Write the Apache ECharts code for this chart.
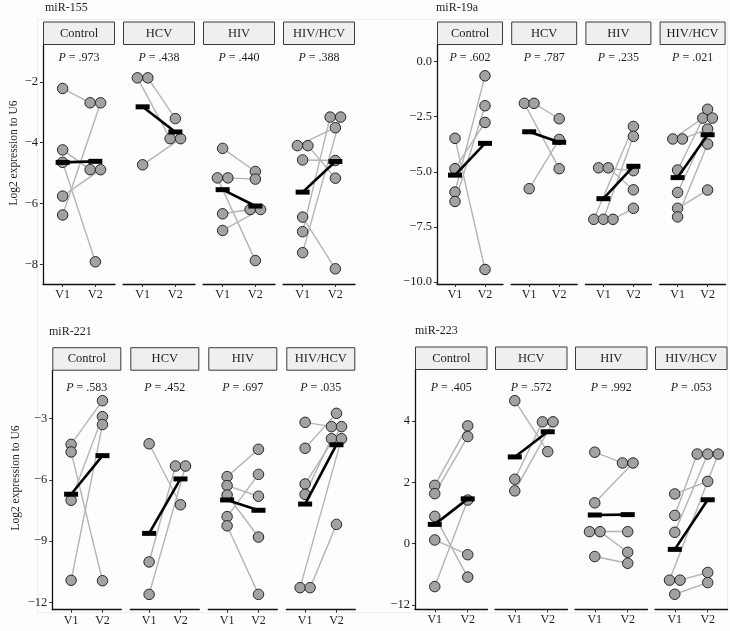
<!DOCTYPE html>
<html><head><meta charset="utf-8">
<script src="https://cdn.jsdelivr.net/npm/echarts@6/dist/echarts.min.js"></script>
<style>html,body{margin:0;padding:0;background:#fdfdfb}#c{width:730px;height:631px}</style>
</head><body><div id="c"></div><script>
// ---------- categories ----------
const groups = ['Control', 'HCV', 'HIV', 'HIV/HCV'];
const visits = ['V1', 'V2'];
const panelTitles = ['miR-155', 'miR-19a', 'miR-221', 'miR-223'];
const yAxisTitle = 'Log2 expression to U6';

// ---------- data: each subject = [V1, V2] (log2 expression) ----------
// miR-155
const mir155Control = [[-2.22, -2.69], [-4.24, -4.89], [-4.65, -7.92], [-5.76, -4.89], [-6.38, -2.69]];
const mir155HCV     = [[-1.87, -3.87], [-1.87, -3.21], [-4.73, -3.87]];
const mir155HIV     = [[-4.19, -4.95], [-5.16, -7.88], [-5.16, -5.20], [-6.34, -6.20], [-6.89, -6.20]];
const mir155HIVHCV  = [[-4.10, -3.51], [-4.10, -5.17], [-4.57, -4.59], [-6.45, -8.15], [-6.93, -3.16], [-7.62, -3.16]];
const mir155P = ['.973', '.438', '.440', '.388'];
const mir155Ticks = [-2, -4, -6, -8];
const mir155TickLabels = ['\u22122', '\u22124', '\u22126', '\u22128'];

// miR-19a
const mir19aControl = [[-3.48, -9.44], [-4.86, -2.76], [-5.92, -0.64], [-6.35, -2.00]];
const mir19aHCV     = [[-1.89, -4.86], [-1.89, -2.59], [-5.77, -3.53]];
const mir19aHIV     = [[-4.82, -4.95], [-4.82, -5.82], [-7.16, -2.94], [-7.16, -3.39], [-7.16, -6.66]];
const mir19aHIVHCV  = [[-3.51, -2.56], [-3.51, -3.06], [-4.92, -2.16], [-5.94, -2.56], [-6.66, -5.83], [-7.05, -3.74]];
const mir19aP = ['.602', '.787', '.235', '.021'];
const mir19aTicks = [0, -2.5, -5, -7.5, -10];
const mir19aTickLabels = ['0.0', '\u22122.5', '\u22125.0', '\u22127.5', '\u221210.0'];

// miR-221
const mir221Control = [[-4.26, -2.12], [-4.63, -10.94], [-7.00, -2.90], [-10.92, -3.29]];
const mir221HCV     = [[-4.23, -7.22], [-10.02, -5.32], [-11.61, -5.32]];
const mir221HIV     = [[-5.84, -4.50], [-6.28, -6.80], [-6.74, -8.80], [-7.80, -5.73], [-8.25, -11.61]];
const mir221HIVHCV  = [[-3.18, -3.39], [-4.45, -2.74], [-6.20, -3.39], [-6.71, -3.98], [-11.28, -3.98], [-11.28, -8.18]];
const mir221P = ['.583', '.452', '.697', '.035'];
const mir221Ticks = [-3, -6, -9, -12];
const mir221TickLabels = ['\u22123', '\u22126', '\u22129', '\u221212'];

// miR-223
const mir223Control = [[1.90, 3.84], [1.63, 3.49], [0.89, -1.09], [0.12, -0.36], [-1.40, 1.42]];
const mir223HCV     = [[4.66, 3.00], [2.10, 3.97], [1.72, 3.97]];
const mir223HIV     = [[2.98, 2.63], [1.33, 2.63], [0.39, 0.39], [0.39, -0.28], [-0.42, -0.64]];
const mir223HIVHCV  = [[1.62, 2.03], [0.92, 2.92], [0.37, 2.92], [-1.19, 2.92], [-1.19, -0.94], [-1.65, -1.27]];
const mir223P = ['.405', '.572', '.992', '.053'];
const mir223Ticks = [4, 2, 0, -2];
const mir223TickLabels = ['4', '2', '0', '\u221212'];

// ---------- layout ----------
const serif = '"Liberation Serif", "DejaVu Serif", serif';
const ink = '#1e1e1e';
const panels = [
  { title: panelTitles[0], sets: [mir155Control, mir155HCV, mir155HIV, mir155HIVHCV], p: mir155P, ticks: mir155Ticks, labels: mir155TickLabels,
    min: -8.65, max: -0.79, left: 43, w: 72, gap: 8, top: 45, bottom: 284, titleX: 45, titleY: 8, pOff: 12.7, yName: [14, 153] },
  { title: panelTitles[1], sets: [mir19aControl, mir19aHCV, mir19aHIV, mir19aHIVHCV], p: mir19aP, ticks: mir19aTicks, labels: mir19aTickLabels,
    min: -10.1, max: 0.76, left: 437, w: 66, gap: 8.2, top: 45, bottom: 284, titleX: 436, titleY: 8, pOff: 12.7, yName: null },
  { title: panelTitles[2], sets: [mir221Control, mir221HCV, mir221HIV, mir221HIVHCV], p: mir221P, ticks: mir221Ticks, labels: mir221TickLabels,
    min: -12.36, max: -0.65, left: 52.3, w: 69, gap: 9, top: 370.7, bottom: 609.7, titleX: 49, titleY: 332, pOff: 17, yName: [16, 478] },
  { title: panelTitles[3], sets: [mir223Control, mir223HCV, mir223HIV, mir223HIVHCV], p: mir223P, ticks: mir223Ticks, labels: mir223TickLabels,
    min: -2.14, max: 5.66, left: 415, w: 72.5, gap: 7.5, top: 370, bottom: 609.3, titleX: 415, titleY: 331, pOff: 17.7, yName: null }
];
const stripH = 23.5;
const dodgeStep = 0.32;

function dodge(vals) {
  // offsets for identical values, centred, in order of appearance
  const out = new Array(vals.length).fill(0);
  const done = new Array(vals.length).fill(false);
  for (let i = 0; i < vals.length; i++) {
    if (done[i] || vals[i] == null) continue;
    const idx = [];
    for (let j = i; j < vals.length; j++) {
      if (!done[j] && vals[j] != null && Math.abs(vals[j] - vals[i]) < 0.005) { idx.push(j); done[j] = true; }
    }
    idx.forEach((j, k) => { out[j] = (k - (idx.length - 1) / 2) * dodgeStep; });
  }
  return out;
}
const mean = a => { const v = a.filter(x => x != null); return v.reduce((s, x) => s + x, 0) / v.length; };

const grid = [], xAxis = [], yAxis = [], series = [], graphic = [];
graphic.push({ type: 'rect', silent: true, z: -10, shape: { x: 37.5, y: 19.5, width: 690, height: 593 },
  style: { fill: 'none', stroke: '#efefef', lineWidth: 1 } });

let gi = 0;
panels.forEach(pn => {
  graphic.push({ type: 'text', x: pn.titleX, y: pn.titleY, style: { text: pn.title, font: '12px ' + serif, fill: ink, textAlign: 'left', textVerticalAlign: 'middle' } });
  if (pn.yName) {
    graphic.push({ type: 'text', x: pn.yName[0], y: pn.yName[1], rotation: Math.PI / 2,
      style: { text: yAxisTitle, font: '11.5px ' + serif, fill: ink, textAlign: 'center', textVerticalAlign: 'middle' } });
  }
  pn.sets.forEach((set, f) => {
    const gx = pn.left + f * (pn.w + pn.gap);
    grid.push({ left: gx, top: pn.top, width: pn.w, height: pn.bottom - pn.top, containLabel: false, outerBoundsMode: 'none' });
    xAxis.push({
      gridIndex: gi, type: 'value', min: 0.4, max: 2.6, position: 'bottom',
      axisLine: { show: true, onZero: false, lineStyle: { color: '#111', width: 1.3 } },
      axisTick: { show: true, customValues: [1, 2], length: 3, lineStyle: { color: '#333', width: 1 } },
      axisLabel: { show: true, customValues: [1, 2], formatter: v => visits[Math.round(v) - 1] || '', margin: 5,
        fontFamily: serif, fontSize: 12, color: ink },
      splitLine: { show: false }
    });
    const first = f === 0;
    yAxis.push({
      gridIndex: gi, type: 'value', min: pn.min, max: pn.max, show: first, position: 'left',
      axisLine: { show: first, onZero: false, lineStyle: { color: '#111', width: 1.3 } },
      axisTick: { show: first, customValues: pn.ticks, length: 3, lineStyle: { color: '#333', width: 1 } },
      axisLabel: { show: first, customValues: pn.ticks, margin: 5, fontFamily: serif, fontSize: 12.5, color: ink,
        formatter: v => { const i = pn.ticks.findIndex(t => Math.abs(t - v) < 1e-6); return i >= 0 ? pn.labels[i] : ''; } },
      splitLine: { show: false }
    });
    const v1 = set.map(s => s[0]), v2 = set.map(s => s[1]);
    const o1 = dodge(v1), o2 = dodge(v2);
    const pts1 = v1.map((v, i) => [1 + o1[i], v]);
    const pts2 = v2.map((v, i) => [2 + o2[i], v]);
    series.push({
      type: 'lines', coordinateSystem: 'cartesian2d', xAxisIndex: gi, yAxisIndex: gi, silent: true, z: 2,
      lineStyle: { color: '#b4b4b4', width: 1.4, opacity: 1, curveness: 0 },
      data: set.filter(s => s[0] != null && s[1] != null).map(s => {
        const i = set.indexOf(s);
        return { coords: [pts1[i], pts2[i]] };
      })
    });
    series.push({
      type: 'scatter', xAxisIndex: gi, yAxisIndex: gi, silent: true, z: 3,
      symbol: 'circle', symbolSize: 10.5,
      itemStyle: { color: '#a2a2a2', borderColor: '#262626', borderWidth: 1, opacity: 1 },
      data: pts1.concat(pts2).filter(p => p[1] != null)
    });
    series.push({
      type: 'line', xAxisIndex: gi, yAxisIndex: gi, silent: true, z: 4,
      symbol: 'rect', symbolSize: [14, 5], showSymbol: true,
      itemStyle: { color: '#000' }, lineStyle: { color: '#000', width: 2.6 },
      data: [[1, mean(v1)], [2, mean(v2)]]
    });
    // strip
    graphic.push({ type: 'rect', shape: { x: gx + 0.5, y: pn.top - stripH + 0.5, width: pn.w - 1, height: stripH - 1 },
      style: { fill: '#efefef', stroke: '#3a3a3a', lineWidth: 1 } });
    graphic.push({ type: 'text', x: gx + pn.w / 2, y: pn.top - stripH / 2, style: { text: groups[f], font: '12.5px ' + serif, fill: ink, textAlign: 'center', textVerticalAlign: 'middle' } });
    // P label
    graphic.push({ type: 'text', x: gx + pn.w / 2, y: pn.top + pn.pOff,
      style: { text: '{i|P} = ' + pn.p[f], fill: ink, textAlign: 'center', textVerticalAlign: 'middle', font: '12px ' + serif,
        rich: { i: { fontStyle: 'italic', fontFamily: serif, fontSize: 12, fill: ink } } } });
    gi++;
  });
});

const chart = echarts.init(document.getElementById('c'));
chart.setOption({ backgroundColor: '#fdfdfb', animation: false, grid, xAxis, yAxis, series, graphic });
</script></body></html>
